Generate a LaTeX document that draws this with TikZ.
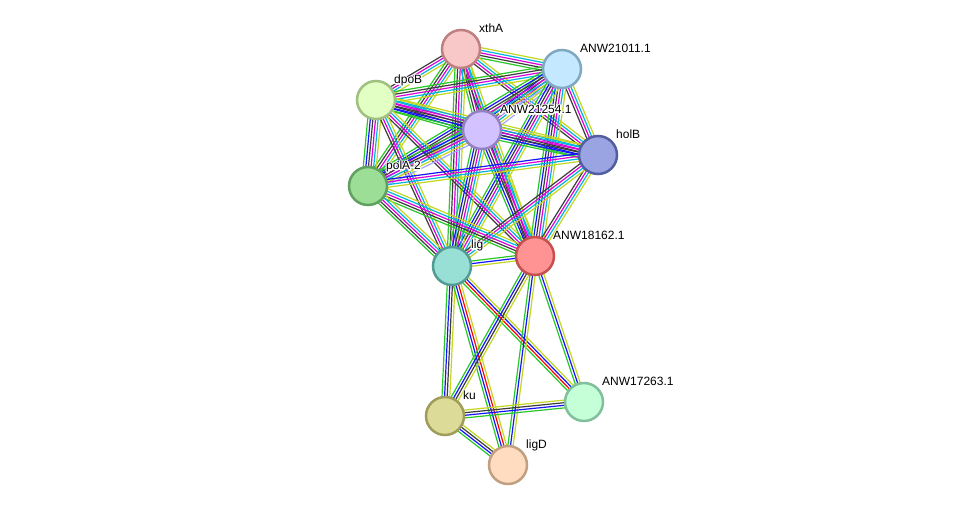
\documentclass[tikz,border=0pt]{standalone}
\usepackage{fontspec}
\setmainfont{Liberation Sans}
\usetikzlibrary{calc}
\pgfdeclarelayer{background}
\pgfsetlayers{background,main}
\definecolor{sgreen}{RGB}{40,200,40}
\definecolor{sblue}{RGB}{20,20,255}
\definecolor{sred}{RGB}{255,0,0}
\definecolor{sblack}{RGB}{60,60,60}
\definecolor{smag}{RGB}{220,0,220}
\definecolor{scyan}{RGB}{0,180,220}
\definecolor{syel}{RGB}{195,215,30}
\definecolor{slav}{RGB}{165,165,255}
\newcommand\halotext[1]{\rlap{\color{white}\special{pdf:literal direct 1 Tr 2.6 w 1 j}#1\special{pdf:literal direct 0 Tr}}#1}
\tikzset{
  prot/.style={circle,minimum size=38pt,inner sep=0pt,line width=2.5pt},
  lbl/.style={anchor=base west,inner sep=0pt,font=\fontsize{12}{14}\selectfont},
  eline/.style={line width=1.2pt}
}
\newcommand\edg[3]{%
  \gdef\ecount{0}%
  \foreach \c in {#3}{\pgfmathtruncatemacro\tmp{\ecount+1}\xdef\ecount{\tmp}}%
  \foreach \c [count=\i] in {#3}{%
    \pgfmathsetmacro\off{(\i-(\ecount+1)/2)*2.6}%
    \draw[eline,\c] ($(#1)!\off pt!90:(#2)$) -- ($(#2)!\off pt!-90:(#1)$);
  }%
}
\begin{document}
\begin{tikzpicture}[x=1pt,y=-1pt]
\useasboundingbox (0,0) rectangle (975,511);
% nodes
\node[prot,fill={rgb,255:red,248;green,200;blue,200},draw={rgb,255:red,190;green,128;blue,128}] (A) at (461,49) {};
\node[prot,fill={rgb,255:red,195;green,232;blue,255},draw={rgb,255:red,128;green,168;blue,192}] (B) at (562,69) {};
\node[prot,fill={rgb,255:red,226;green,255;blue,196},draw={rgb,255:red,160;green,192;blue,128}] (C) at (376,100) {};
\node[prot,fill={rgb,255:red,210;green,194;blue,255},draw={rgb,255:red,146;green,130;blue,196}] (D) at (482,130) {};
\node[prot,fill={rgb,255:red,154;green,164;blue,226},draw={rgb,255:red,82;green,94;blue,160}] (E) at (598,155) {};
\node[prot,fill={rgb,255:red,156;green,222;blue,150},draw={rgb,255:red,96;green,160;blue,96}] (F) at (368,186) {};
\node[prot,fill={rgb,255:red,255;green,146;blue,146},draw={rgb,255:red,196;green,80;blue,80}] (G) at (535,256) {};
\node[prot,fill={rgb,255:red,152;green,224;blue,214},draw={rgb,255:red,82;green,156;blue,148}] (H) at (452,266) {};
\node[prot,fill={rgb,255:red,220;green,220;blue,152},draw={rgb,255:red,160;green,156;blue,92}] (I) at (445,416) {};
\node[prot,fill={rgb,255:red,196;green,255;blue,216},draw={rgb,255:red,128;green,192;blue,156}] (J) at (584,402) {};
\node[prot,fill={rgb,255:red,255;green,220;blue,192},draw={rgb,255:red,192;green,160;blue,128}] (K) at (508,465) {};
% labels
\node[lbl] (tA) at (479,32.5) {\halotext{xthA}};
\node[lbl] (tB) at (580,52.5) {\halotext{ANW21011.1}};
\node[lbl] (tC) at (394,83.5) {\halotext{dpoB}};
\node[lbl] (tD) at (500,113.5) {\halotext{ANW21254.1}};
\node[lbl] (tE) at (616,138.5) {\halotext{holB}};
\node[lbl] (tF) at (386,169.5) {\halotext{polA-2}};
\node[lbl] (tG) at (553,239.5) {\halotext{ANW18162.1}};
\node[lbl] (tH) at (471,248.5) {\halotext{lig}};
\node[lbl] (tI) at (463,399.5) {\halotext{ku}};
\node[lbl] (tJ) at (602,385.5) {\halotext{ANW17263.1}};
\node[lbl] (tK) at (526,448.5) {\halotext{ligD}};
% edges
\begin{pgfonlayer}{background}
\fill[white] (0,0) rectangle (975,511);
\edg{A}{B}{sgreen,sblack,smag,scyan,syel}
\edg{A}{C}{sblack,smag,scyan,syel}
\edg{A}{D}{sgreen,sblack,smag,scyan,syel}
\edg{A}{E}{sblack,smag,scyan,syel}
\edg{A}{F}{sgreen,sblack,smag,scyan,syel}
\edg{A}{G}{sblack,smag,scyan,syel}
\edg{A}{H}{sgreen,sblack,smag,scyan,syel}
\edg{B}{C}{sgreen,sblack,smag,scyan,syel}
\edg{B}{D}{sgreen,sblue,sblack,smag,scyan,syel,slav}
\edg{B}{E}{sblack,smag,scyan,syel}
\edg{B}{F}{sgreen,sblue,sblack,smag,scyan,syel,slav}
\edg{B}{G}{sgreen,sblue,sblack,smag,scyan,syel}
\edg{B}{H}{sgreen,sblue,sblack,smag,scyan,syel}
\edg{C}{D}{sgreen,sblue,sblack,smag,scyan,syel}
\edg{C}{E}{sgreen,sblue,sblack,smag,scyan,syel}
\edg{C}{F}{sgreen,sblue,sblack,smag,scyan,syel}
\edg{C}{G}{sblack,smag,scyan,syel}
\edg{C}{H}{sblack,smag,scyan,syel}
\edg{D}{E}{sgreen,sblue,sblack,smag,scyan,syel}
\edg{D}{F}{sgreen,sblue,sblack,smag,scyan,syel,slav}
\edg{D}{G}{sgreen,sblue,sblack,smag,scyan,syel}
\edg{D}{H}{sgreen,sblue,sblack,smag,scyan,syel}
\edg{E}{F}{sblue,smag,scyan,syel}
\edg{E}{G}{sblack,smag,scyan,syel}
\edg{E}{H}{sblack,smag,scyan,syel}
\edg{F}{G}{sgreen,sblack,smag,scyan,syel}
\edg{F}{H}{sgreen,sblack,smag,scyan,syel}
\edg{G}{H}{sgreen,sblue,syel}
\edg{H}{I}{sgreen,sblue,sblack,syel}
\edg{H}{K}{sgreen,sblue,sred,syel}
\edg{H}{J}{sgreen,sred,sblue,syel}
\edg{G}{I}{sgreen,sblue,sblack,syel}
\edg{G}{K}{sgreen,sblue,syel}
\edg{G}{J}{sgreen,sblue,syel}
\edg{I}{J}{sgreen,sblue,sblack,syel}
\edg{I}{K}{sgreen,sblue,sblack,syel}
\end{pgfonlayer}
\end{tikzpicture}
\end{document}
